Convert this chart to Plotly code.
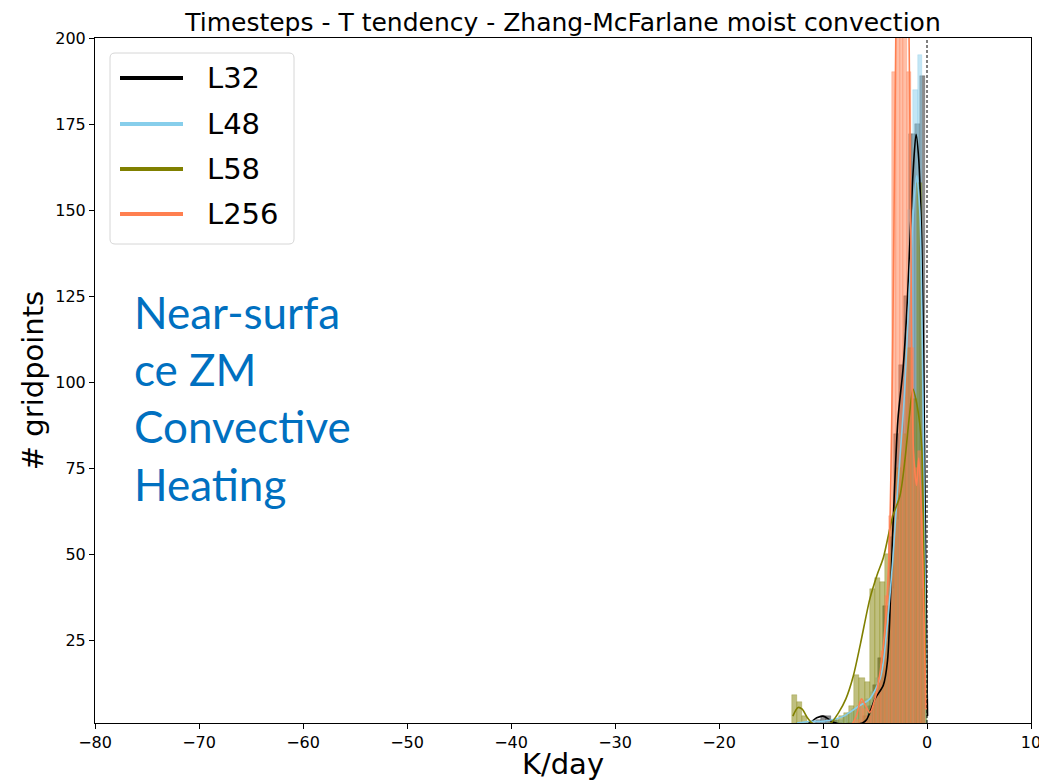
import plotly.graph_objects as go

# ---------------- data ----------------
series_names = ["L32", "L48", "L58", "L256"]

# histogram bin centres and counts (K/day, # gridpoints)
l32_bins = [-10.95, -10.45, -9.95, -9.45, -8.95, -8.45, -7.95, -7.45, -6.95, -6.45,
            -5.95, -5.45, -4.95, -4.45, -3.95, -3.45, -2.95, -2.45, -1.95, -1.45,
            -0.95, -0.45]
l32_counts = [1, 2, 3, 3, 2, 1, 0, 1, 0, 1,
              3, 6, 12, 20, 35, 55, 85, 105, 125, 172,
              175, 189]

l48_bins = [-12.375, -11.925, -11.475, -11.025, -10.575, -10.125, -9.675, -9.225, -8.775, -8.325,
            -7.875, -7.425, -6.975, -6.525, -6.075, -5.625, -5.175, -4.725, -4.275, -3.825,
            -3.375, -2.925, -2.475, -2.025, -1.575, -1.125, -0.675, -0.225]
l48_counts = [1, 1, 1, 1, 1, 1, 1, 1, 2, 2,
              3, 4, 5, 6, 7, 8, 10, 14, 18, 25,
              40, 60, 85, 115, 150, 185, 195, 33]

l58_bins = [-12.75, -12.25, -11.75, -11.25, -10.75, -10.25, -9.75, -9.25, -8.75, -8.25,
            -7.75, -7.25, -6.75, -6.25, -5.75, -5.25, -4.75, -4.25, -3.75, -3.25,
            -2.75, -2.25, -1.75, -1.25, -0.75, -0.25]
l58_counts = [9, 7, 3, 1, 0, 0, 0, 1, 2, 3,
              4, 6, 15, 14, 13, 40, 43, 42, 50, 60,
              75, 85, 110, 95, 158, 40]

l256_bins = [-7.005, -6.655, -6.305, -5.955, -5.605, -5.255, -4.905, -4.555, -4.205, -3.855,
             -3.505, -3.155, -2.805, -2.455, -2.105, -1.755, -1.405, -1.055, -0.705, -0.355]
l256_counts = [1, 2, 7, 5, 3, 6, 10, 14, 22, 38,
               61, 190, 240, 240, 240, 190, 110, 75, 80, 62]

# kernel density curves (scaled to counts)
l32_kde_x = [-11.8, -11.2, -10.6, -10.0, -9.5, -9.0, -8.5, -8.0, -7.5, -7.0, -6.5, -6.2, -5.8,
             -5.0, -4.2, -3.8, -3.3, -2.8, -2.3, -1.9, -1.6, -1.3, -1.05, -0.8, -0.5, -0.3,
             -0.1, 0.05]
l32_kde_y = [0.3, 1.2, 2.5, 3.0, 2.2, 1.2, 0.8, 0.6, 0.5, 0.6, 0.8, 1.0, 2.0,
             8, 12, 19, 56, 89, 104, 123, 144, 163, 172, 165, 140, 100,
             40, 3]

l48_kde_x = [-12.5, -11.0, -10.0, -9.0, -8.0, -7.0, -6.5, -5.5, -4.5, -4.2, -3.8, -3.3, -2.8,
             -2.2, -1.8, -1.4, -1.0, -0.7, -0.45, -0.25, -0.05]
l48_kde_y = [1.0, 1.5, 1.5, 2.0, 3.0, 5.0, 6.0, 8.0, 14, 18.7, 30, 48, 70,
             95, 120, 145, 160, 150, 110, 60, 8]

l58_kde_x = [-12.9, -12.4, -12.0, -11.5, -11.0, -10.5, -10.0, -9.3, -8.5, -7.8, -7.1, -6.4,
             -5.5, -4.8, -4.2, -3.3, -2.6, -2.1, -1.7, -1.35, -1.0, -0.7, -0.5, -0.3, -0.1]
l58_kde_y = [3.0, 5.5, 5.0, 2.5, 0.8, 0.2, 0.2, 0.8, 4.0, 8.0, 14.5, 24,
             37, 44, 49, 61, 67, 78, 90, 98, 94, 88, 81, 50, 8]

l256_kde_x = [-7.2, -6.8, -6.3, -5.9, -5.5, -5.0, -4.5, -4.0, -3.6, -3.3, -3.0, -2.7, -2.3,
              -1.9, -1.6, -1.3, -1.0, -0.8, -0.6, -0.35, -0.1]
l256_kde_y = [0.5, 3.0, 8.0, 6.0, 4.0, 8.0, 16, 30, 55, 110, 200, 260, 270,
              240, 160, 80, 70, 78, 68, 40, 5]

x_ticks = [-80, -70, -60, -50, -40, -30, -20, -10, 0, 10]
y_ticks = [25, 50, 75, 100, 125, 150, 175, 200]

title_text = "Timesteps - T tendency - Zhang-McFarlane moist convection"
x_title = "K/day"
y_title = "# gridpoints"
note_lines = ["Near-surfa", "ce ZM", "Convective", "Heating"]

# ---------------- styling ----------------
colors = {"L32": "#000000", "L48": "#87CEEB", "L58": "#808000", "L256": "#FF7F50"}
bar_fill = {"L32": "rgba(0,0,0,0.45)", "L48": "rgba(135,206,235,0.5)",
            "L58": "rgba(128,128,0,0.5)", "L256": "rgba(255,127,80,0.5)"}
bar_edge = {"L32": "rgba(0,0,0,0.45)", "L48": "rgba(135,206,235,0.6)",
            "L58": "rgba(128,128,0,0.55)", "L256": "rgba(255,127,80,0.6)"}
bar_w = {"L32": 0.5, "L48": 0.45, "L58": 0.5, "L256": 0.35}

hist = {"L32": (l32_bins, l32_counts), "L48": (l48_bins, l48_counts),
        "L58": (l58_bins, l58_counts), "L256": (l256_bins, l256_counts)}
kde = {"L32": (l32_kde_x, l32_kde_y), "L48": (l48_kde_x, l48_kde_y),
       "L58": (l58_kde_x, l58_kde_y), "L256": (l256_kde_x, l256_kde_y)}

fig = go.Figure()
for name in series_names:
    bx, by = hist[name]
    fig.add_trace(go.Bar(x=bx, y=by, width=bar_w[name], name=name, showlegend=False,
                         marker=dict(color=bar_fill[name],
                                     line=dict(color=bar_edge[name], width=0.5))))
for name in series_names:
    kx, ky = kde[name]
    fig.add_trace(go.Scatter(x=kx, y=ky, mode="lines", name=name, showlegend=False,
                             line=dict(color=colors[name], width=1.6, shape="spline",
                                       smoothing=0.8)))

# plot area in pixels
W, H = 1039, 781
L, R, T, B = 95, 8, 38, 58
pw, ph = W - L - R, H - T - B

def px_x(p):
    return (p - L) / pw

def px_y(p):
    return (H - B - p) / ph

shapes = []
# dashed zero line
shapes.append(dict(type="line", xref="x", yref="paper", x0=0, x1=0, y0=0, y1=1,
                   line=dict(color="black", width=1, dash="3px,2px")))

# legend box (rounded)
lx0, lx1, ly0, ly1 = px_x(110), px_x(294), px_y(244), px_y(53)
rx, ry = 5 / pw, 5 / ph
path = (f"M{lx0+rx},{ly0} L{lx1-rx},{ly0} Q{lx1},{ly0} {lx1},{ly0+ry} "
        f"L{lx1},{ly1-ry} Q{lx1},{ly1} {lx1-rx},{ly1} L{lx0+rx},{ly1} "
        f"Q{lx0},{ly1} {lx0},{ly1-ry} L{lx0},{ly0+ry} Q{lx0},{ly0} {lx0+rx},{ly0} Z")
shapes.append(dict(type="path", xref="paper", yref="paper", path=path,
                   fillcolor="rgba(255,255,255,0.8)", line=dict(color="#d6d6d6", width=1)))

annotations = []
leg_y = [78, 124, 169, 214]
for name, yy in zip(series_names, leg_y):
    shapes.append(dict(type="line", xref="paper", yref="paper",
                       x0=px_x(120), x1=px_x(183), y0=px_y(yy), y1=px_y(yy),
                       line=dict(color=colors[name], width=4)))
    annotations.append(dict(xref="paper", yref="paper", x=px_x(205), y=px_y(yy),
                            xanchor="left", yanchor="middle", text=name, showarrow=False,
                            font=dict(family="DejaVu Sans", size=29, color="black")))

annotations.append(dict(xref="paper", yref="paper", x=px_x(132), y=px_y(284),
                        xanchor="left", yanchor="top", align="left",
                        text="<br>".join(note_lines), showarrow=False,
                        font=dict(family="Lato", size=44, color="#0070C0")))

fig.update_layout(
    width=W, height=H,
    margin=dict(l=L, r=R, t=T, b=B, autoexpand=False),
    paper_bgcolor="white", plot_bgcolor="white",
    barmode="overlay", bargap=0,
    showlegend=False,
    title=dict(text=title_text, x=0.5, xref="paper", y=1 - 22 / H, yanchor="middle",
               font=dict(family="DejaVu Sans", size=25, color="black")),
    shapes=shapes, annotations=annotations,
    font=dict(family="DejaVu Sans", color="black"),
)
fig.update_xaxes(range=[-80, 10.0001], tickvals=x_ticks, ticks="outside", ticklen=5,
                 tickcolor="black", showline=True, linecolor="black", linewidth=1,
                 mirror=True, showgrid=False, zeroline=False, automargin=False,
                 ticklabeloverflow="allow",
                 tickfont=dict(family="DejaVu Sans", size=16, color="black"),
                 title=dict(text=x_title, standoff=4,
                            font=dict(family="DejaVu Sans", size=29, color="black")))
fig.update_yaxes(range=[1, 200], tickvals=y_ticks, ticks="outside", ticklen=5,
                 tickcolor="black", showline=True, linecolor="black", linewidth=1,
                 mirror=True, showgrid=False, zeroline=False, automargin=False,
                 tickfont=dict(family="DejaVu Sans", size=16, color="black"),
                 title=dict(text=y_title, standoff=3,
                            font=dict(family="DejaVu Sans", size=29, color="black")))

fig.write_html("out.html")
